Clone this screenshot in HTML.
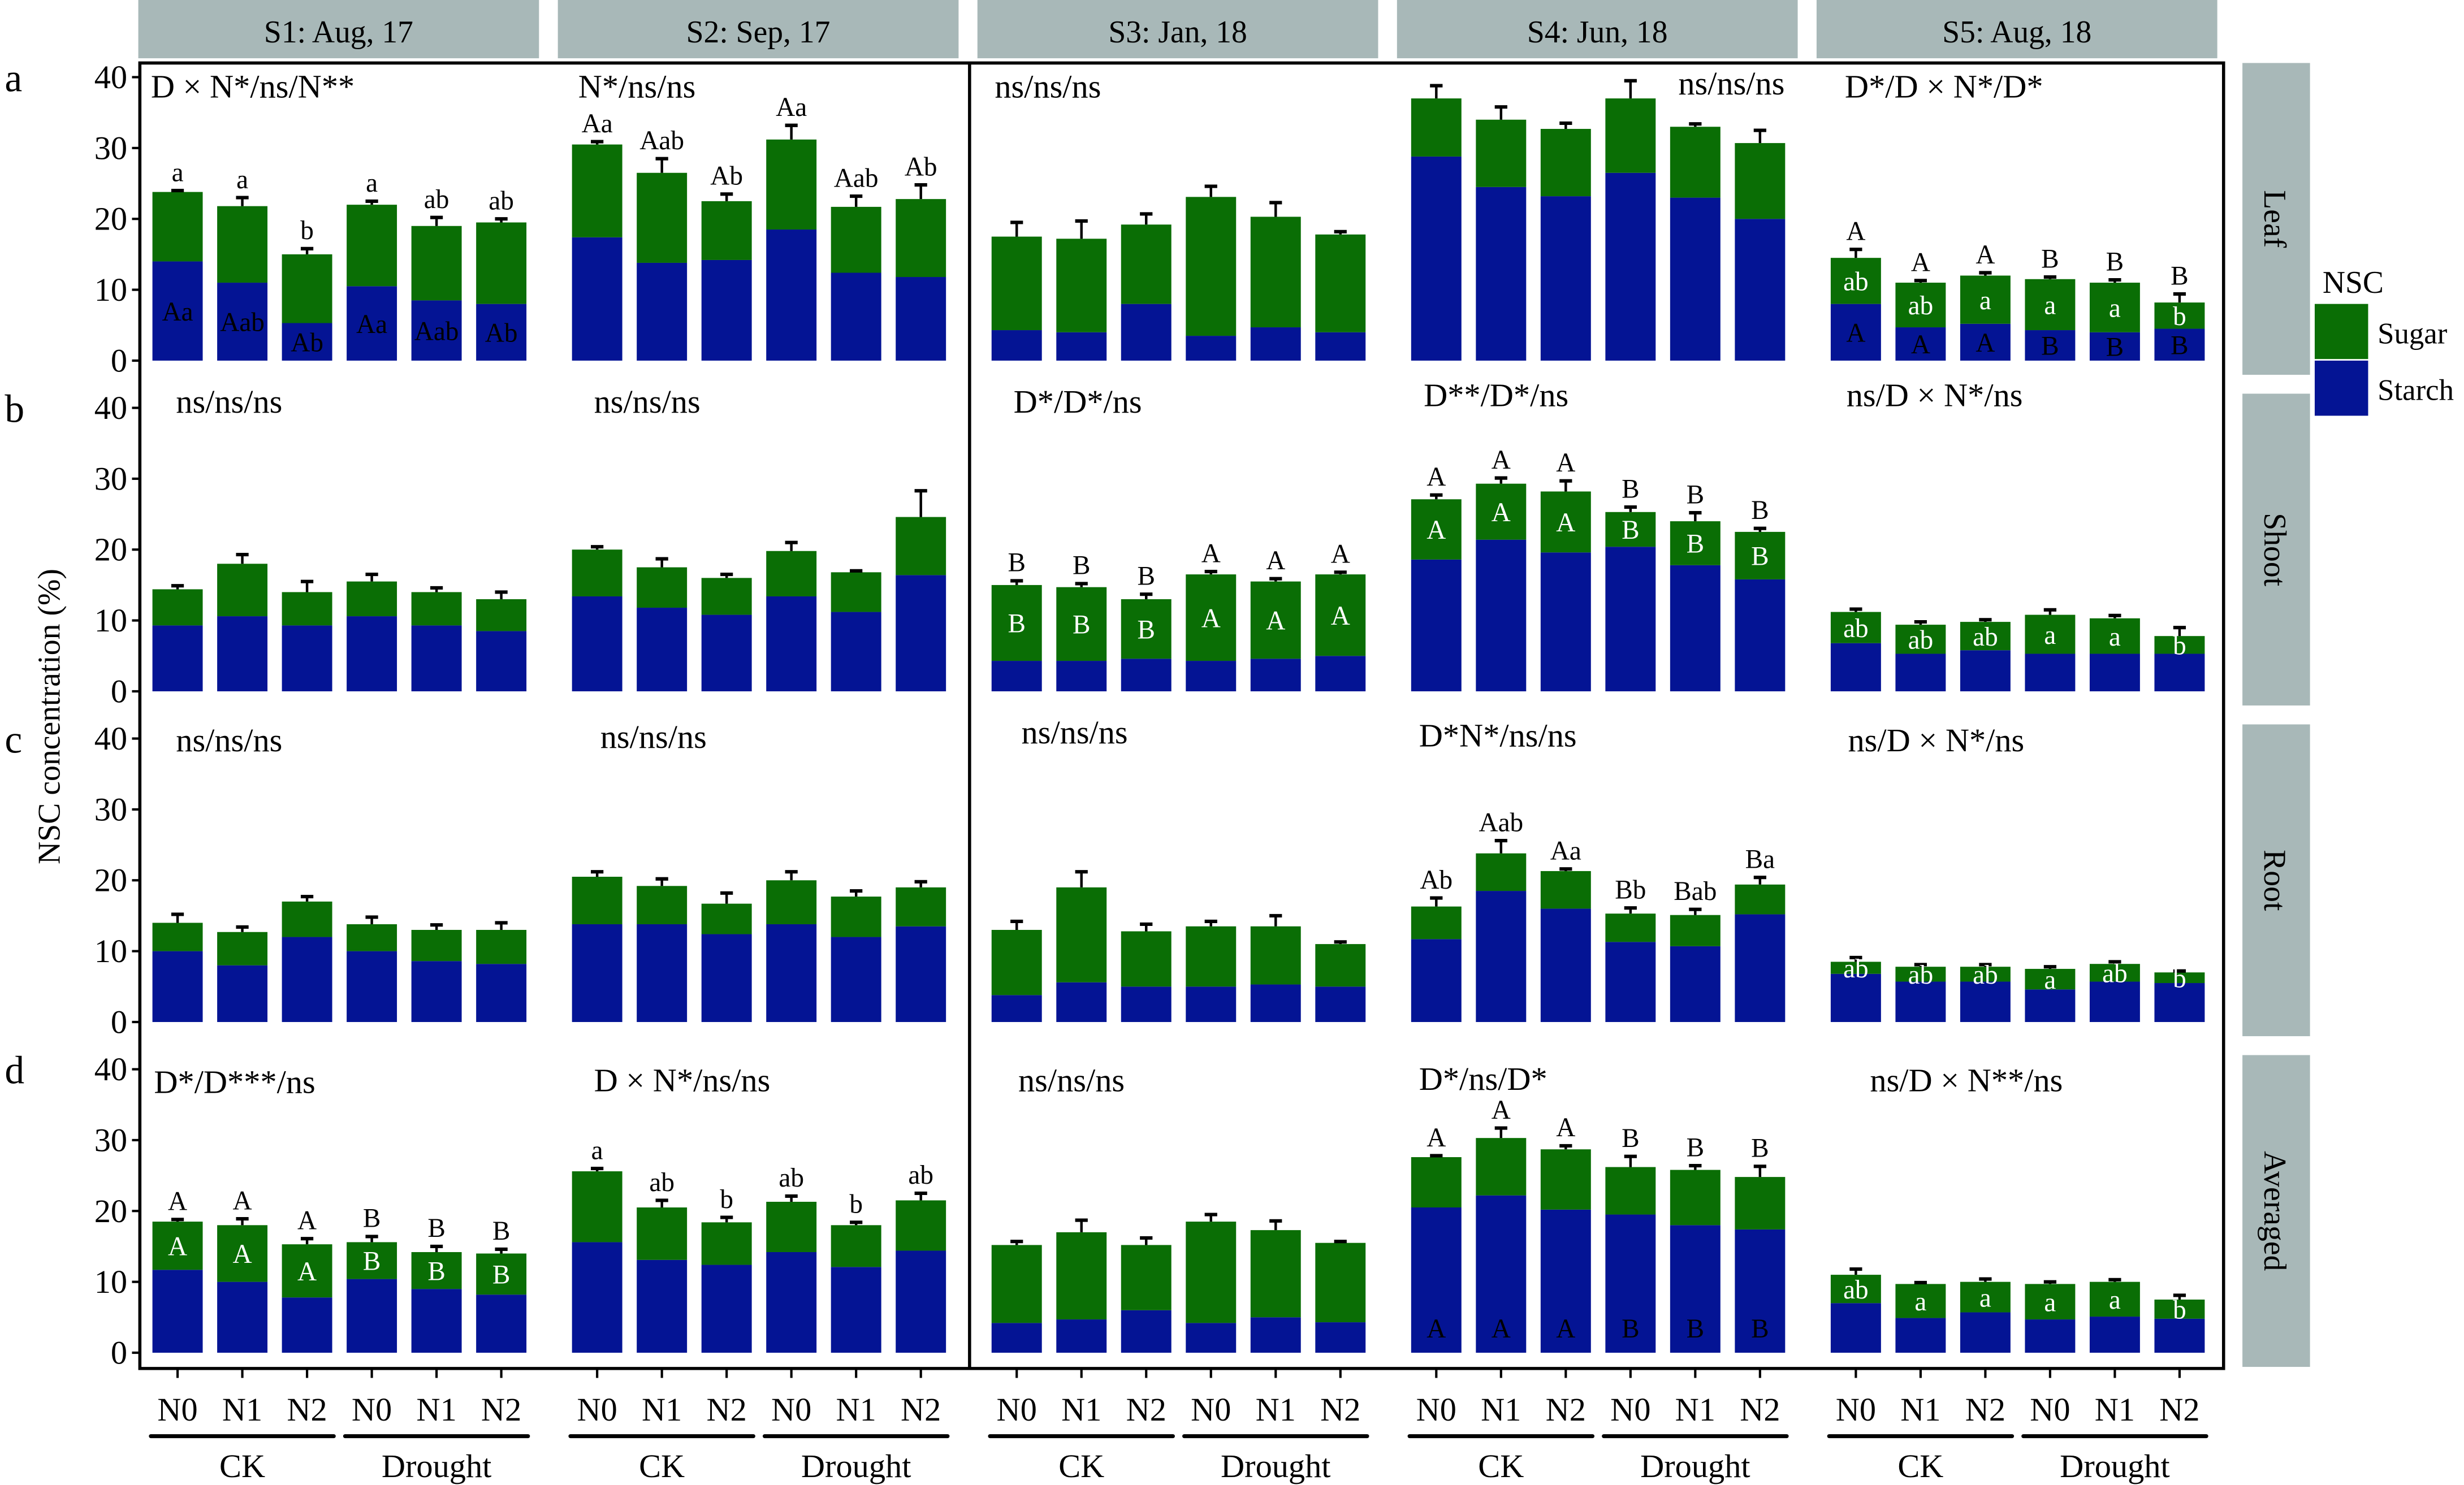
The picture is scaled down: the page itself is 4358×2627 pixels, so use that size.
<!DOCTYPE html>
<html><head><meta charset="utf-8">
<style>
html,body{margin:0;padding:0;background:#fff;}
svg{display:block;}
text{font-family:"Liberation Serif",serif;}
</style></head>
<body>
<svg id="chart" width="4358" height="2627" viewBox="0 0 1568 943" preserveAspectRatio="none" xmlns="http://www.w3.org/2000/svg">
<text x="0" y="0" transform="translate(38,455) rotate(-90)" text-anchor="middle" font-size="20">NSC concentration (%)</text>
<g>
<text x="1478" y="186" font-size="20">NSC</text>
<rect x="1473" y="193" width="34" height="35" fill="#0a6e05"/>
<rect x="1473" y="229" width="34" height="35" fill="#041494"/>
<text x="1513" y="218" font-size="19">Sugar</text>
<text x="1513" y="254" font-size="19">Starch</text>
</g>
</svg>
<script>
const seasons = ["S1: Aug, 17","S2: Sep, 17","S3: Jan, 18","S4: Jun, 18","S5: Aug, 18"];
const organs = ["Leaf","Shoot","Root","Averaged"];
const rowLetters = ["a","b","c","d"];
const categories = ["N0","N1","N2","N0","N1","N2"];
const groups = ["CK","Drought"];
const yTicks = [0,10,20,30,40];

const starchLeaf = [[14,11,5.3,10.5,8.5,8],[17.4,13.8,14.2,18.5,12.4,11.8],[4.3,4,8,3.5,4.7,4],[28.8,24.5,23.2,26.5,23,20],[8,4.7,5.2,4.3,4,4.5]];
const totalLeaf = [[23.8,21.8,15,22,19,19.5],[30.5,26.5,22.5,31.2,21.7,22.8],[17.5,17.2,19.2,23.1,20.3,17.8],[37,34,32.7,37,33,30.7],[14.5,11,12,11.5,11,8.2]];
const errLeaf = [[0.2,1.2,0.8,0.5,1.2,0.5],[0.4,2,1,2,1.5,2],[2,2.5,1.5,1.5,2,0.4],[1.8,1.8,0.8,2.5,0.4,1.8],[1.2,0.3,0.4,0.3,0.4,1.2]];

const starchShoot = [[9.3,10.6,9.3,10.6,9.3,8.5],[13.4,11.8,10.8,13.4,11.2,16.4],[4.3,4.3,4.6,4.3,4.6,5],[18.6,21.4,19.6,20.4,17.8,15.8],[6.8,5.3,5.8,5.3,5.3,5.3]];
const totalShoot = [[14.4,18,14,15.5,14,13],[20,17.5,16,19.8,16.8,24.6],[15,14.7,13,16.5,15.5,16.5],[27.1,29.3,28.2,25.3,24,22.5],[11.2,9.4,9.8,10.8,10.3,7.8]];
const errShoot = [[0.5,1.3,1.5,1,0.6,1],[0.4,1.2,0.5,1.2,0.2,3.7],[0.6,0.5,0.7,0.4,0.4,0.3],[0.6,0.8,1.5,0.7,1.2,0.5],[0.4,0.4,0.3,0.7,0.4,1.2]];

const starchRoot = [[10,8,12,10,8.6,8.2],[13.8,13.8,12.4,13.8,12,13.5],[3.8,5.6,5,5,5.3,5],[11.7,18.5,16,11.3,10.7,15.2],[6.8,5.7,5.7,4.6,5.7,5.5]];
const totalRoot = [[14,12.7,17,13.8,13,13],[20.5,19.2,16.7,20,17.7,19],[13,19,12.8,13.5,13.5,11],[16.3,23.8,21.3,15.3,15.1,19.4],[8.5,7.8,7.8,7.5,8.2,7]];
const errRoot = [[1.2,0.7,0.7,1,0.7,1],[0.7,1,1.5,1.2,0.8,0.8],[1.2,2.2,1,0.7,1.5,0.3],[1.2,1.8,0.3,0.8,0.8,1],[0.6,0.3,0.3,0.3,0.3,0.2]];

const starchAvg = [[11.7,10,7.8,10.4,9,8.2],[15.6,13.1,12.4,14.2,12.1,14.4],[4.2,4.7,6,4.2,5,4.3],[20.5,22.2,20.2,19.5,18,17.4],[7,4.9,5.7,4.7,5.1,4.8]];
const totalAvg = [[18.5,18,15.3,15.6,14.2,14],[25.6,20.5,18.4,21.3,18,21.5],[15.2,17,15.2,18.5,17.3,15.5],[27.6,30.3,28.7,26.2,25.8,24.8],[11,9.7,10,9.7,10,7.5]];
const errAvg = [[0.3,0.9,0.8,0.8,0.8,0.6],[0.4,1,0.7,0.8,0.4,1],[0.5,1.7,1,1,1.3,0.2],[0.2,1.4,0.5,1.5,0.6,1.5],[0.8,0.2,0.4,0.3,0.3,0.6]];

const starchData = [starchLeaf,starchShoot,starchRoot,starchAvg];
const totalData = [totalLeaf,totalShoot,totalRoot,totalAvg];
const errData = [errLeaf,errShoot,errRoot,errAvg];

const annotations = [
 ["D × N*/ns/N**","N*/ns/ns","ns/ns/ns","ns/ns/ns","D*/D × N*/D*"],
 ["ns/ns/ns","ns/ns/ns","D*/D*/ns","D**/D*/ns","ns/D × N*/ns"],
 ["ns/ns/ns","ns/ns/ns","ns/ns/ns","D*N*/ns/ns","ns/D × N*/ns"],
 ["D*/D***/ns","D × N*/ns/ns","ns/ns/ns","D*/ns/D*","ns/D × N**/ns"]
];
const annoPos = [
 [[96,62],[368,62],[633,62],[1068,60],[1174,62]],
 [[112,262],[378,262],[645,262],[906,258],[1175,258]],
 [[112,477],[382,475],[650,472],[903,474],[1176,477]],
 [[98,694],[378,693],[648,693],[903,692],[1190,693]]
];
const letterSets = [
 [0,0,"above",["a","a","b","a","ab","ab"]],
 [0,0,"starch",["Aa","Aab","Ab","Aa","Aab","Ab"]],
 [0,1,"above",["Aa","Aab","Ab","Aa","Aab","Ab"]],
 [0,4,"above",["A","A","A","B","B","B"]],
 [0,4,"sugar",["ab","ab","a","a","a","b"]],
 [0,4,"starch",["A","A","A","B","B","B"]],
 [1,2,"above",["B","B","B","A","A","A"]],
 [1,2,"sugar",["B","B","B","A","A","A"]],
 [1,3,"above",["A","A","A","B","B","B"]],
 [1,3,"sugar",["A","A","A","B","B","B"]],
 [1,4,"sugar",["ab","ab","ab","a","a","b"]],
 [2,3,"above",["Ab","Aab","Aa","Bb","Bab","Ba"]],
 [2,4,"sugar",["ab","ab","ab","a","ab","b"]],
 [3,0,"above",["A","A","A","B","B","B"]],
 [3,0,"sugar",["A","A","A","B","B","B"]],
 [3,1,"above",["a","ab","b","ab","b","ab"]],
 [3,3,"above",["A","A","A","B","B","B"]],
 [3,3,"low",["A","A","A","B","B","B"]],
 [3,4,"sugar",["ab","a","a","a","a","b"]]
];

const svg = document.getElementById('chart');
const NS = "http://www.w3.org/2000/svg";
const GREEN = "#0a6e05", BLUE = "#041494", STRIP = "#a8b8b8";
function mk(tag, attrs, parent){ const e=document.createElementNS(NS,tag); for(const k in attrs) e.setAttribute(k,attrs[k]); (parent||svg).appendChild(e); return e; }
function panelX(p){ return 88 + 267*p; }
function xCenter(p,i){ return panelX(p) + 25 + 41.2*i; }
function yZero(r){ return 229 + 210*r; }
function yScale(r,v){ return yZero(r) - v*4.5; }

seasons.forEach((s,p)=>{
  const r = mk('rect',{x:panelX(p),y:0,width:255,height:37,fill:STRIP});
  
  
  const t = mk('text',{x:panelX(p)+127.5,y:27,'text-anchor':'middle','font-size':20});
  t.textContent = s;
  
  
});
organs.forEach((o,r)=>{
  const top = 40+210*r;
  const rc = mk('rect',{x:1427,y:top,width:43,height:198,fill:STRIP});
  
  
  const t = mk('text',{x:0,y:0,transform:`translate(1441,${top+99}) rotate(90)`,'text-anchor':'middle','font-size':20});
  t.textContent = o;
  
  
  const l = mk('text',{x:3,y:yScale(r,40)+9,'font-size':25});
  l.textContent = rowLetters[r];
  
  
  yTicks.forEach(v=>{
    const y = yScale(r,v);
    const tk = mk('line',{x1:84,x2:89,y1:y,y2:y,stroke:'#000','stroke-width':1.5});
    
    
    const tl = mk('text',{x:81,y:y+7,'text-anchor':'end','font-size':21});
    tl.textContent = v;
    
    
  });
});

for(let r=0;r<4;r++){
  for(let p=0;p<5;p++){
    for(let i=0;i<6;i++){
      const cx = xCenter(p,i), w=32;
      const st = starchData[r][p][i], tot = totalData[r][p][i], er = errData[r][p][i];
      const y0 = yZero(r), ys = yScale(r,st), yt = yScale(r,tot), ye = yScale(r,tot+er);
      const b1 = mk('rect',{x:cx-w/2,y:ys,width:w,height:y0-ys,fill:BLUE});
      
      
      const b2 = mk('rect',{x:cx-w/2,y:yt,width:w,height:ys-yt,fill:GREEN});
      
      
      const el = mk('line',{x1:cx,x2:cx,y1:yt,y2:ye,stroke:'#000','stroke-width':1.6});
      
      
      const ec = mk('line',{x1:cx-4,x2:cx+4,y1:ye,y2:ye,stroke:'#000','stroke-width':2.2});
      
      
    }
    const a = mk('text',{x:annoPos[r][p][0],y:annoPos[r][p][1],'font-size':21});
    a.textContent = annotations[r][p];
    
    
  }
}

letterSets.forEach(([r,p,kind,letters])=>{
  letters.forEach((L,i)=>{
    const cx = xCenter(p,i);
    const st = starchData[r][p][i], tot = totalData[r][p][i], er = errData[r][p][i];
    let y, fill='#000';
    if(kind==='above'){ y = yScale(r,tot+er) - 6; }
    else if(kind==='sugar'){ y = (yScale(r,st)+yScale(r,tot))/2 + 6; fill='#fff'; }
    else if(kind==='starch'){ y = (yScale(r,0)+yScale(r,st))/2 + 6; }
    else { y = yScale(r,3.5) + 6; }
    const t = mk('text',{x:cx,y:y,'text-anchor':'middle','font-size':17,fill:fill});
    t.textContent = L;
    
    
  });
});

const frame = mk('path',{d:'M89,40 H1415 V869 H89 Z M617,40 V869',fill:'none',stroke:'#000','stroke-width':2});



for(let p=0;p<5;p++){
  categories.forEach((c,i)=>{
    const cx = xCenter(p,i);
    const tk = mk('line',{x1:cx,x2:cx,y1:869,y2:875,stroke:'#000','stroke-width':1.5});
    
    
    const t = mk('text',{x:cx,y:902,'text-anchor':'middle','font-size':21});
    t.textContent = c;
    
    
  });
  groups.forEach((g,k)=>{
    const xa = xCenter(p,3*k)-17, xb = xCenter(p,3*k+2)+17;
    const ln = mk('line',{x1:xa,x2:xb,y1:912,y2:912,stroke:'#000','stroke-width':2.5,'stroke-linecap':'round'});
    
    
    const t = mk('text',{x:(xa+xb)/2,y:938,'text-anchor':'middle','font-size':21});
    t.textContent = g;
    
    
  });
}
</script>
</body></html>
